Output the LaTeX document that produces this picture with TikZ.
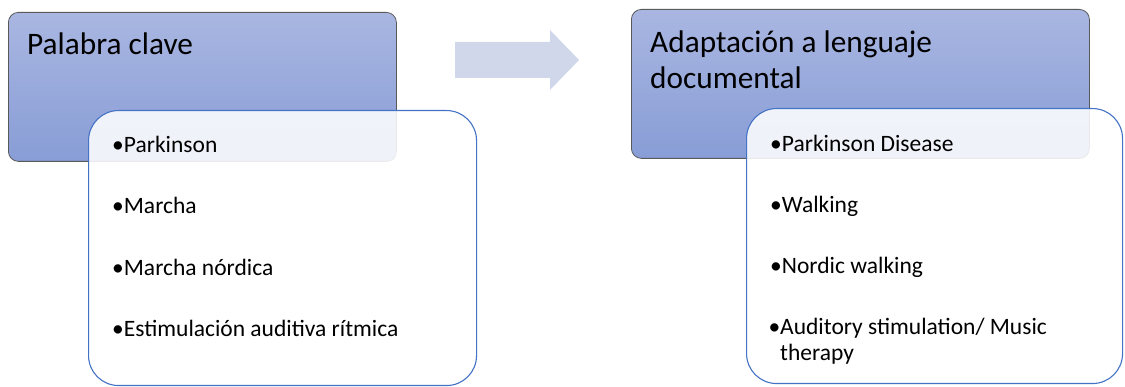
\documentclass[tikz,border=0pt]{standalone}
\usepackage{fontspec}
\setmainfont{Carlito}
\definecolor{hdrtop}{RGB}{169,182,225}
\definecolor{hdrbot}{RGB}{136,157,214}
\definecolor{boxline}{RGB}{68,114,196}
\definecolor{arrowfill}{RGB}{208,215,235}
\begin{document}
\begin{tikzpicture}[x=1pt,y=-1pt]
        \tikzstyle{header} = [rectangle, rounded corners=10pt, draw=black!65, line width=.8, top color=hdrtop, bottom color=hdrbot, anchor=north west, minimum height=149pt]
        \tikzstyle{listbox} = [rectangle, rounded corners=30pt, draw=boxline, line width=1.1, fill=white, fill opacity=.87, anchor=north west, minimum height=275pt]
        \tikzstyle{title} = [anchor=base west, inner sep=0, align=left, text=black, font=\fontsize{31.3}{36}\selectfont]
        \tikzstyle{item} = [anchor=base west, inner sep=0, align=left, text=black, font=\fontsize{23.5}{26}\selectfont]
        \useasboundingbox (0,0) rectangle (1125,387);
        % left column
        \node[header, minimum width=388pt] (hdrL) at (8,12) {};
        \node[title] (titleL) at (27,55) {Palabra clave};
        \node[listbox, minimum width=388pt] (listL) at (88,110) {};
        \node[item] (kw1) at (112,153) {•Parkinson};
        \node[item] (kw2) at (112,214) {•Marcha};
        \node[item] (kw3) at (112,276) {•Marcha nórdica};
        \node[item] (kw4) at (112,337) {•Estimulación auditiva rítmica};
        % arrow
        \fill[arrowfill] (455,42) -- (550,42) -- (550,30) -- (579,60) -- (550,90) -- (550,78) -- (455,78) -- cycle;
        % right column (base = last line)
        \node[header, minimum width=458pt] (hdrR) at (631,9) {};
        \node[title] (titleR) at (650,89) {Adaptación a lenguaje\\documental};
        \node[listbox, minimum width=376pt] (listR) at (746,108) {};
        \node[item] (dt1) at (770,152) {•Parkinson Disease};
        \node[item] (dt2) at (770,213) {•Walking};
        \node[item] (dt3) at (770,274) {•Nordic walking};
        \node[item] (dt4) at (780,361) {\llap{•}Auditory stimulation/ Music\\therapy};
    \end{tikzpicture}
\end{document}
